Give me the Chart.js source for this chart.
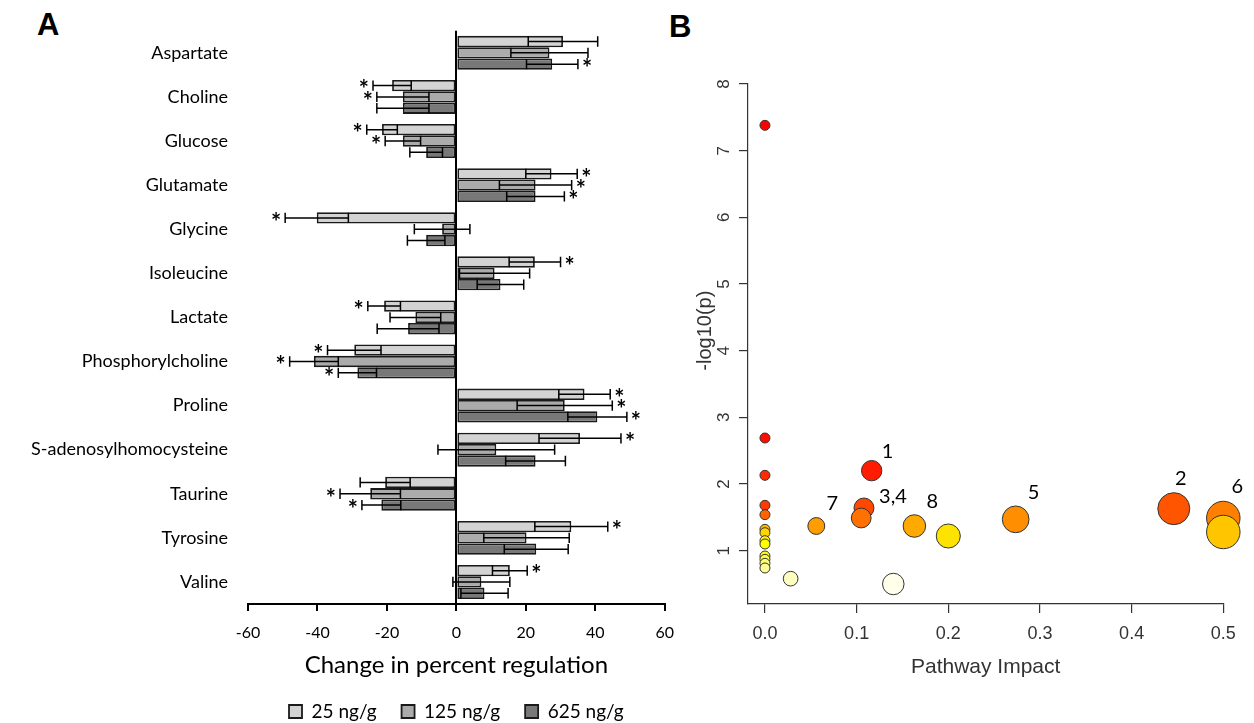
<!DOCTYPE html>
<html>
<head>
<meta charset="utf-8">
<script src="https://cdn.jsdelivr.net/npm/chart.js@4/dist/chart.umd.min.js"></script>
<style>
  body { margin: 0; background: #fff; overflow: hidden; width: 1254px; height: 723px; position: relative; }
  .panel { position: absolute; font-family: "Liberation Sans", Arial, sans-serif; font-weight: bold; font-size: 31px; line-height: 1; color: #000; }
  canvas { position: absolute; top: 0; }
</style>
</head>
<body>
<div class="panel" style="left:37px;top:9px">A</div>
<div class="panel" style="left:669px;top:11px">B</div>
<canvas id="chartA" width="686" height="731" style="left:0"></canvas>
<canvas id="chartB" width="574" height="723" style="left:680px"></canvas>
<script>
// ---- panel A data ----
const metabolites = ['Aspartate', 'Choline', 'Glucose', 'Glutamate', 'Glycine', 'Isoleucine', 'Lactate',
  'Phosphorylcholine', 'Proline', 'S-adenosylhomocysteine', 'Taurine', 'Tyrosine', 'Valine'];
const doseLabels = ['25 ng/g', '125 ng/g', '625 ng/g'];
const mean25 = [30.7, -18.5, -21.4, 27.4, -40.2, 22.6, -20.8, -29.4, 36.9, 35.6, -20.5, 33.1, 15.4];
const err25 = [10, 5.5, 4.4, 7.4, 9.1, 7.4, 4.7, 7.7, 7.4, 11.8, 7.2, 10.5, 5];
const mean125 = [26.8, -15.4, -15.4, 22.8, -4.1, 11, -11.8, -41, 31.2, 11.5, -24.8, 20.2, 7.2];
const err125 = [11.1, 7.5, 5.1, 10.4, 8, 10.1, 7.3, 7, 13.7, 16.8, 8.7, 12.3, 8.2];
const mean625 = [27.6, -15.4, -8.7, 22.8, -8.7, 12.7, -13.9, -28.5, 40.6, 22.8, -21.6, 23, 8.1];
const err625 = [7.4, 7.5, 4.7, 8.3, 5.4, 6.7, 8.9, 5.5, 8.5, 8.6, 5.6, 9.2, 6.8];
const sig25 = [0, 1, 1, 1, 1, 1, 1, 1, 1, 1, 0, 1, 1];
const sig125 = [0, 1, 1, 1, 0, 0, 0, 1, 1, 0, 1, 0, 0];
const sig625 = [1, 0, 0, 1, 0, 0, 0, 1, 1, 0, 1, 0, 0];
const xTicksA = [-60, -40, -20, 0, 20, 40, 60];

// ---- panel B data ----
const impact = [0, 0, 0, 0, 0, 0, 0, 0, 0, 0, 0, 0, 0,
  0.028, 0.1164, 0.446, 0.108, 0.105, 0.2735, 0.5, 0.5, 0.056, 0.163, 0.2, 0.14];
const logp = [7.38, 2.69, 2.13, 1.68, 1.54, 1.32, 1.27, 1.15, 1.10, 0.92, 0.87, 0.81, 0.74,
  0.58, 2.2, 1.63, 1.64, 1.49, 1.47, 1.49, 1.28, 1.37, 1.37, 1.22, 0.5];
const pathLabel = ['', '', '', '', '', '', '', '', '', '', '', '', '',
  '', '1', '2', '3,4', '', '5', '6', '', '7', '8', '', ''];
const xTicksB = [0, 0.1, 0.2, 0.3, 0.4, 0.5];
const yTicksB = [1, 2, 3, 4, 5, 6, 7, 8];

Chart.defaults.font.family = 'Lato';
Chart.defaults.color = '#000';

// error bars + significance stars
const errorBars = {
  id: 'errorBars',
  afterDatasetsDraw(chart) {
    const { ctx, scales: { x } } = chart;
    ctx.save();
    ctx.strokeStyle = '#000';
    ctx.lineWidth = 1.5;
    ctx.fillStyle = '#000';
    ctx.font = 'bold 24px Lato';
    ctx.textBaseline = 'middle';
    chart.data.datasets.forEach((ds, di) => {
      chart.getDatasetMeta(di).data.forEach((bar, i) => {
        const m = ds.data[i], e = ds.errors[i];
        const lo = x.getPixelForValue(m - e), hi = x.getPixelForValue(m + e);
        const y = bar.y, h = bar.height / 2 - 0.5;
        ctx.beginPath();
        ctx.moveTo(lo, y); ctx.lineTo(hi, y);
        ctx.moveTo(lo, y - h); ctx.lineTo(lo, y + h);
        ctx.moveTo(hi, y - h); ctx.lineTo(hi, y + h);
        ctx.stroke();
        if (ds.sig[i]) {
          if (m >= 0) { ctx.textAlign = 'left'; ctx.fillText('*', hi + 4, y + 5); }
          else { ctx.textAlign = 'right'; ctx.fillText('*', lo - 4, y + 5); }
        }
      });
    });
    ctx.restore();
  }
};

new Chart(document.getElementById('chartA'), {
  type: 'bar',
  data: {
    labels: metabolites,
    datasets: [
      { label: doseLabels[0], data: mean25, errors: err25, sig: sig25, backgroundColor: '#d3d3d3' },
      { label: doseLabels[1], data: mean125, errors: err125, sig: sig125, backgroundColor: '#ababab' },
      { label: doseLabels[2], data: mean625, errors: err625, sig: sig625, backgroundColor: '#787878' }
    ].map(d => Object.assign(d, { borderColor: '#1a1a1a', borderWidth: 1.8, borderSkipped: false,
      categoryPercentage: 0.77, barPercentage: 1 }))
  },
  options: {
    indexAxis: 'y',
    responsive: false,
    animation: false,
    layout: { padding: { top: 28, right: 10, bottom: 0, left: 0 } },
    plugins: {
      tooltip: { enabled: false },
      legend: {
        position: 'bottom',
        fullSize: false,
        labels: { boxWidth: 13, boxHeight: 13, padding: 25, font: { size: 19 }, color: '#000' }
      }
    },
    scales: {
      x: {
        min: -60, max: 60,
        afterBuildTicks: s => { s.ticks = xTicksA.map(v => ({ value: v })); },
        ticks: { font: { size: 16 }, color: '#000', padding: 12 },
        grid: {
          color: c => (c.tick && c.tick.value === 0) ? '#000' : 'rgba(0,0,0,0)',
          lineWidth: 2, tickColor: '#000', tickLength: 7, tickWidth: 2
        },
        border: { color: '#000', width: 2 },
        title: { display: true, text: 'Change in percent regulation', color: '#000',
          font: { size: 24, lineHeight: 1 }, padding: { top: 0, bottom: 0 } },
        afterFit: s => { s.height = 73; }
      },
      y: {
        ticks: { font: { size: 18 }, color: '#000', padding: 20 },
        grid: { display: false, drawTicks: false },
        border: { display: false },
        afterFit: s => { s.width = 248; }
      }
    }
  },
  plugins: [errorBars]
});

// ---- panel B ----
// R heat.colors style ramp by rank of significance
function heatColor(rank, n) {
  const j = Math.floor(n / 4), m = n - j;
  if (rank < m) return 'hsl(' + (rank / (m - 1) * 60).toFixed(1) + ',100%,50%)';
  const k = rank - m;
  const s = (1 - 1 / (2 * j)) - k * ((1 - 1 / j) / (j - 1));
  return 'rgb(255,255,' + Math.round(255 * (1 - s)) + ')';
}
function radiusFor(imp) { return 5 + 17.3 * Math.pow(imp, 0.56); }

const order = logp.map((v, i) => i).sort((a, b) => logp[b] - logp[a]);
const labelOffset = { '1': [16, -19], '2': [7, -30], '3,4': [29, -11], '5': [18, -27], '6': [14, -31], '7': [16, -22], '8': [18, -24] };

const bubbleText = {
  id: 'bubbleText',
  afterDraw(chart) {
    const { ctx, scales: { y } } = chart;
    ctx.save();
    ctx.fillStyle = '#333';
    ctx.font = '17px "Liberation Sans"';
    ctx.textAlign = 'center';
    ctx.textBaseline = 'middle';
    yTicksB.forEach(v => {
      ctx.save();
      ctx.translate(y.right - 24, y.getPixelForValue(v));
      ctx.rotate(-Math.PI / 2);
      ctx.fillText(String(v), 0, 0);
      ctx.restore();
    });
    // axis title, placed as in the source figure
    ctx.font = '20px "Liberation Sans"';
    ctx.save();
    ctx.translate(y.right - 43, y.getPixelForValue(4.3));
    ctx.rotate(-Math.PI / 2);
    ctx.fillText('-log10(p)', 0, 0);
    ctx.restore();
    ctx.fillStyle = '#000';
    ctx.font = '20px Lato';
    chart.getDatasetMeta(0).data.forEach((pt, k) => {
      const lab = pathLabel[order[k]];
      if (!lab) return;
      const off = labelOffset[lab];
      ctx.fillText(lab, pt.x + off[0], pt.y + off[1]);
    });
    ctx.restore();
  }
};

const axisFont = { family: 'Liberation Sans', size: 18 };
new Chart(document.getElementById('chartB'), {
  type: 'bubble',
  data: {
    datasets: [{
      data: order.map(i => ({ x: impact[i], y: logp[i], r: radiusFor(impact[i]) })),
      backgroundColor: c => heatColor(c.dataIndex, logp.length),
      borderColor: '#333',
      borderWidth: 1,
      clip: false
    }]
  },
  options: {
    responsive: false,
    animation: false,
    layout: { padding: { top: 84, right: 30.7, bottom: 19, left: 0 } },
    plugins: { legend: { display: false }, tooltip: { enabled: false } },
    scales: {
      x: {
        type: 'linear', min: -0.0185, max: 0.5, bounds: 'data',
        afterBuildTicks: s => { s.ticks = xTicksB.map(v => ({ value: v })); },
        ticks: { callback: v => v.toFixed(1), font: axisFont, color: '#333', padding: 10 },
        grid: { drawOnChartArea: false, tickLength: 9, color: '#333', lineWidth: 1.2 },
        border: { color: '#333', width: 1.2 },
        title: { display: true, text: 'Pathway Impact', color: '#333',
          font: { family: 'Liberation Sans', size: 21, lineHeight: 1.2 }, padding: { top: 0, bottom: 24 } },
        afterFit: s => { s.height = 100; }
      },
      y: {
        type: 'linear', min: 0.2, max: 8, bounds: 'data',
        afterBuildTicks: s => { s.ticks = yTicksB.map(v => ({ value: v })); },
        ticks: { display: false },
        grid: { drawOnChartArea: false, tickLength: 9, color: '#333', lineWidth: 1.2 },
        border: { color: '#333', width: 1.2 },
        afterFit: s => { s.width = 68; }
      }
    }
  },
  plugins: [bubbleText]
});
</script>
</body>
</html>
